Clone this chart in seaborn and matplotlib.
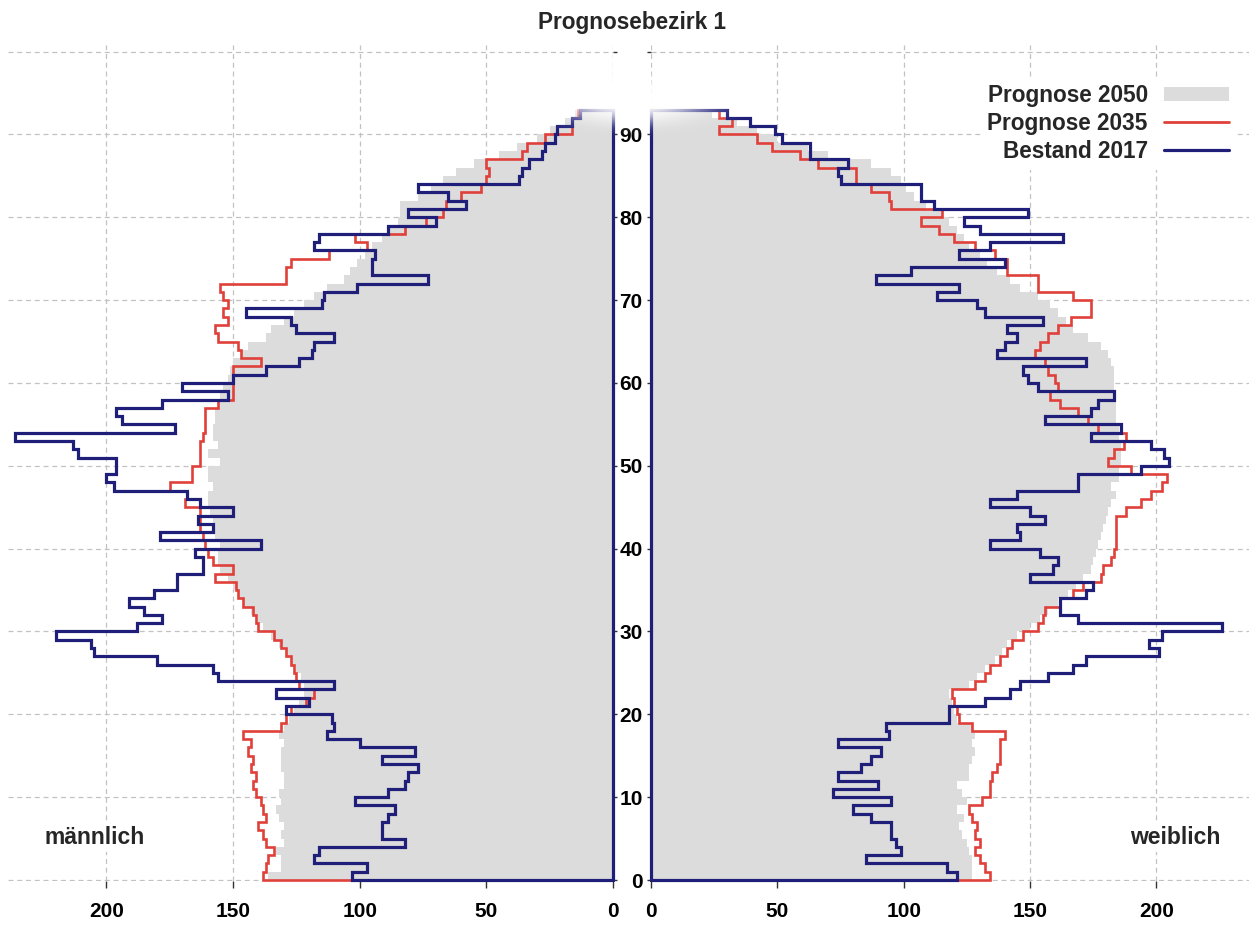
import numpy as np
import pandas as pd
import matplotlib
matplotlib.use("Agg")
import matplotlib.pyplot as plt
import seaborn as sns
from matplotlib.patches import Patch
from matplotlib.lines import Line2D

# age bins 0..92 (each bin is one year wide)
ages = np.arange(0, 93)

# männlich
male_2050 = [136, 131, 131, 133, 130, 131, 130, 132, 133, 131,
             132, 130, 130, 131, 131, 131, 130, 132, 130, 128,
             126, 124, 122, 122, 123, 125, 127, 129, 132, 135,
             138, 140, 143, 146, 148, 150, 152, 155, 156, 156,
             155, 157, 158, 158, 159, 160, 160, 158, 160, 160,
             155, 160, 156, 158, 158, 157, 157, 156, 155, 154,
             152, 151, 150, 147, 144, 137, 135, 130, 126, 122,
             118, 113, 106, 104, 101, 98, 95, 91, 88, 85,
             84, 84, 77, 72, 67, 62, 55, 45, 38, 30,
             25, 19, 15]
male_2035 = [138, 137, 136, 134, 137, 138, 140, 137, 138, 139,
             141, 142, 141, 143, 142, 144, 143, 146, 131, 129,
             127, 121, 118, 124, 125, 126, 127, 129, 131, 134,
             140, 141, 142, 146, 148, 149, 157, 150, 158, 160,
             161, 162, 163, 163, 163, 169, 168, 175, 166, 166,
             163, 163, 163, 162, 161, 161, 161, 156, 150, 150,
             150, 150, 139, 147, 148, 156, 157, 152, 154, 152,
             154, 155, 129, 129, 127, 112, 97, 102, 82, 74,
             67, 66, 60, 52, 50, 49, 50, 36, 34, 27,
             16, 16, 14]
male_2017 = [103, 97, 118, 116, 82, 91, 91, 89, 86, 102,
             89, 82, 81, 77, 91, 78, 100, 113, 110, 111,
             129, 120, 133, 110, 156, 158, 180, 205, 206, 220,
             188, 178, 185, 191, 181, 172, 172, 162, 162, 165,
             139, 179, 158, 164, 150, 163, 168, 197, 200, 196,
             196, 211, 213, 236, 173, 194, 196, 178, 152, 170,
             150, 137, 124, 119, 118, 110, 125, 127, 145, 115,
             114, 101, 73, 95, 95, 94, 118, 116, 89, 70,
             81, 58, 65, 77, 37, 36, 33, 28, 27, 23,
             22, 16, 13]

# weiblich
female_2050 = [127, 127, 127, 126, 125, 123, 122, 124, 121, 125,
               123, 121, 126, 126, 127, 128, 127, 128, 127, 121,
               120, 119, 118, 126, 129, 132, 136, 139, 141, 145,
               150, 154, 157, 161, 165, 168, 171, 174, 175, 176,
               177, 178, 179, 180, 181, 182, 184, 182, 185, 185,
               186, 186, 186, 185, 185, 184, 184, 184, 183, 183,
               183, 183, 182, 181, 178, 173, 167, 164, 161, 158,
               153, 146, 142, 137, 133, 130, 126, 124, 121, 118,
               115, 109, 104, 101, 99, 95, 87, 70, 62, 50,
               42, 34, 24]
female_2035 = [134, 132, 130, 128, 130, 128, 129, 127, 126, 131,
               134, 134, 135, 137, 138, 138, 138, 140, 127, 122,
               121, 120, 119, 128, 132, 134, 138, 141, 143, 147,
               153, 155, 156, 162, 167, 171, 178, 179, 182, 183,
               184, 184, 184, 184, 188, 194, 198, 202, 204, 190,
               181, 183, 187, 188, 177, 173, 169, 162, 158, 161,
               160, 157, 156, 152, 154, 157, 161, 166, 174, 174,
               167, 153, 153, 141, 141, 136, 128, 120, 114, 107,
               115, 95, 94, 87, 81, 81, 66, 59, 48, 42,
               27, 32, 27]
female_2017 = [121, 117, 85, 99, 97, 95, 95, 87, 80, 95,
               72, 90, 74, 83, 87, 91, 74, 94, 93, 118,
               118, 132, 142, 146, 157, 167, 172, 201, 197, 202,
               226, 169, 162, 162, 172, 175, 150, 159, 161, 154,
               134, 146, 145, 156, 150, 134, 145, 169, 169, 194,
               205, 203, 198, 174, 186, 156, 174, 177, 183, 153,
               149, 147, 172, 137, 140, 145, 141, 155, 132, 129,
               113, 122, 89, 103, 140, 122, 134, 163, 130, 124,
               149, 112, 107, 107, 75, 74, 78, 63, 63, 52,
               49, 39, 30]

x_ticks = [0, 50, 100, 150, 200]
y_ticks = list(range(0, 101, 10))

GREY = "#dcdcdc"
RED = "#e0403a"
NAVY = "#1f1f7a"


def outline(values):
    # closed step outline: along the baseline, up the steps, back down x=0
    v = np.asarray(values, float)
    n = len(v)
    xs = np.concatenate([[0], np.repeat(v, 2), [0, 0]])
    ys = np.concatenate([[0], np.repeat(np.arange(n), 2) + np.tile([0, 1], n), [n, 0]])
    return xs, ys


sns.set_theme(style="white")
plt.rcParams["font.family"] = ["Liberation Sans", "DejaVu Sans"]
plt.rcParams["font.weight"] = "bold"

W, H = 1249, 927
fig = plt.figure(figsize=(W / 100, H / 100), dpi=100)
ax_m = fig.add_axes([8 / W, 46 / H, (613 - 8) / W, 836 / H])
ax_f = fig.add_axes([651 / W, 46 / H, (W - 651) / W, 836 / H])

for ax, s50, s35, s17 in [(ax_m, male_2050, male_2035, male_2017),
                          (ax_f, female_2050, female_2035, female_2017)]:
    df = pd.DataFrame({"age": ages + 0.5, "count": s50})
    sns.histplot(data=df, y="age", weights="count", binwidth=1, binrange=(0, len(ages)),
                 element="step", fill=True, color=GREY, alpha=1, linewidth=0, ax=ax)
    xs, ys = outline(s35)
    ax.plot(xs, ys, color=RED, lw=1.9, solid_joinstyle="miter", zorder=3, clip_on=False)
    xs, ys = outline(s17)
    ax.plot(xs, ys, color=NAVY, lw=2.3, solid_joinstyle="miter", zorder=4, clip_on=False)

    ax.set_ylim(-0.12, 100.8)
    ax.set_yticks(y_ticks)
    ax.set_xticks(x_ticks)
    ax.grid(True, ls=(0, (4, 3)), color="#c2c2c2", lw=0.9)
    ax.set_axisbelow(True)
    for sp in ax.spines.values():
        sp.set_visible(False)
    ax.set_xlabel("")
    ax.set_ylabel("")
    ax.tick_params(axis="x", bottom=True, length=5, width=1, color="#333333",
                   pad=10, labelsize=15, labelcolor="black")

ax_m.set_xlim(238.8, 0)
ax_m.tick_params(axis="y", left=False, right=True, length=3, width=1,
                 color="#333333", labelleft=False, labelright=False)

ax_f.set_xlim(0, 236.6)
ax_f.tick_params(axis="y", left=True, length=3, width=1, color="#333333",
                 pad=3, labelsize=15, labelcolor="black")
ax_f.set_yticklabels([str(t) if t < 100 else "" for t in y_ticks])

ax_m.text(204.5, 5.1, "männlich", ha="center", va="center", fontsize=16.5,
          bbox=dict(facecolor="white", edgecolor="none", pad=2))
ax_f.text(207.4, 5.1, "weiblich", ha="center", va="center", fontsize=16.5,
          bbox=dict(facecolor="white", edgecolor="none", pad=2))

fig.text(632 / W, 1 - 22 / H, "Prognosebezirk 1", ha="center", va="center",
         fontsize=16.3, fontweight="bold")

handles = [Patch(facecolor=GREY, edgecolor="none", label="Prognose 2050"),
           Line2D([], [], color=RED, lw=2.0, label="Prognose 2035"),
           Line2D([], [], color=NAVY, lw=2.3, label="Bestand 2017")]
leg = ax_f.legend(handles=handles, loc="upper right", bbox_to_anchor=(1236 / W, 1 - 77 / H),
                  bbox_transform=fig.transFigure, markerfirst=False, frameon=True,
                  fontsize=16.3, handlelength=2.9, handleheight=0.6, labelspacing=0.22,
                  handletextpad=0.7, borderpad=0.3, borderaxespad=0)
leg.get_frame().set_facecolor("white")
leg.get_frame().set_edgecolor("none")
leg.get_frame().set_alpha(1)

# soft white haze over the top of the pyramid, as in the source image
hx0, hy0, hw, hh = 500, 40, 270, 110
haze = fig.add_axes([hx0 / W, 1 - (hy0 + hh) / H, hw / W, hh / H], zorder=6)
px, py = np.meshgrid(np.arange(hx0, hx0 + hw), np.arange(hy0, hy0 + hh))
r2 = ((px - 632) / 75) ** 2 + ((py - 100) / 22) ** 2
rgba = np.ones((hh, hw, 4))
rgba[..., 3] = np.exp(-0.9 * r2 ** 1.5)
haze.imshow(rgba, aspect="auto", interpolation="bilinear")
haze.axis("off")

fig.savefig("out.png", dpi=100, facecolor="white")
